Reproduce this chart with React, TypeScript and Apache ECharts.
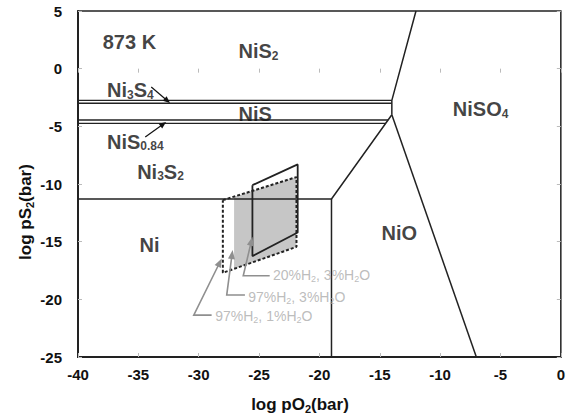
import React, { useEffect, useRef } from "react";
import * as echarts from "echarts";

const FONT = 'Arial, "Liberation Sans", Helvetica, sans-serif';

// Axis ranges / ticks
const xRange = [-40, 0];
const yRange = [-25, 5];
const tickStep = 5;

// Phase boundary lines (log pO2, log pS2)
const boundaryNi3S4Upper = [[-40, -2.75], [-14, -2.75]];
const boundaryNi3S4Lower = [[-40, -3.0], [-14, -3.0]];
const boundaryNiS084Upper = [[-40, -4.45], [-14.31, -4.45]];
const boundaryNiS084Lower = [[-40, -4.75], [-14.51, -4.75]];
const boundarySulfate = [[-12, 5], [-14, -2.75], [-14, -4.0]];
const boundaryNiO = [[-14, -4.0], [-19, -11.3], [-40, -11.3]];
const boundaryNiNiO = [[-19, -11.3], [-19, -25]];
const boundaryNiONiSO4 = [[-14, -4.0], [-7, -25]];

// Gas composition regions
const region97H2_1H2O = [[-28, -11.4], [-21.9, -9.4], [-21.9, -15.45], [-28, -17.7], [-28, -11.4]];
const region97H2_3H2O = [[-27.07, -11.1], [-21.9, -9.4], [-21.9, -15.45], [-27.07, -17.37]];
const region20H2_3H2O = [[-25.55, -10.1], [-21.8, -8.3], [-21.8, -14.2], [-25.55, -16.25], [-25.55, -10.1]];

// Phase labels: [x, y, rich text]
const phaseLabels: [number, number, string][] = [
  [-37.95, 2.3, "{b|873 K}"],
  [-26.7, 1.5, "{b|NiS}{s|2}"],
  [-37.6, -1.85, "{b|Ni}{s|3}{b|S}{s|4}"],
  [-26.7, -3.95, "{b|NiS}"],
  [-37.6, -6.35, "{b|NiS}{s|0.84}"],
  [-35.1, -8.95, "{b|Ni}{s|3}{b|S}{s|2}"],
  [-34.9, -15.3, "{b|Ni}"],
  [-14.85, -14.25, "{b|NiO}"],
  [-8.95, -3.5, "{b|NiSO}{s|4}"],
];

// Black arrows
const blackArrows = [
  [[-33.93, -1.59], [-32.38, -2.98]],
  [[-34.43, -5.93], [-32.7, -4.63]],
];

// Gray annotation arrows and texts
const grayArrows = [
  [[-24.12, -17.96], [-26.31, -17.96], [-25.55, -14.58]],
  [[-26.17, -19.63], [-27.68, -19.63], [-27.19, -15.73]],
  [[-28.93, -21.37], [-30.41, -21.37], [-28.09, -16.45]],
];
const grayTexts: [number, number, string][] = [
  [-23.85, -17.93, "{g|20%H}{gs|2}{g|, 3%H}{gs|2}{g|O}"],
  [-25.9, -19.78, "{g|97%H}{gs|2}{g|, 3%H}{gs|2}{g|O}"],
  [-28.63, -21.43, "{g|97%H}{gs|2}{g|, 1%H}{gs|2}{g|O}"],
];

const LINE = "#222";

const richStyles = {
  b: { fontSize: 20, fontWeight: "bold", fontFamily: FONT, color: "#111" },
  s: { fontSize: 12, fontWeight: "bold", fontFamily: FONT, color: "#111", padding: [9, 0, 0, 0] },
  g: { fontSize: 14, fontFamily: FONT, color: "#ababab" },
  gs: { fontSize: 9, fontFamily: FONT, color: "#ababab", padding: [8, 0, 0, 0] },
};

function lineSeries(data: number[][], extra: any = {}) {
  return {
    type: "line",
    data,
    symbol: "none",
    silent: true,
    lineStyle: { color: LINE, width: 1.5, ...(extra.lineStyle || {}) },
    z: extra.z ?? 3,
  };
}

function arrowSeries(paths: number[][][], color: string, width: number, headLen: number, headHalf: number) {
  return {
    type: "custom",
    silent: true,
    z: 5,
    data: paths.map((p) => p[p.length - 1]),
    renderItem: (params: any, api: any) => {
      const path = paths[params.dataIndex];
      const pts = path.map((pt) => api.coord(pt));
      const tip = pts[pts.length - 1];
      const prev = pts[pts.length - 2];
      const dx = tip[0] - prev[0];
      const dy = tip[1] - prev[1];
      const len = Math.sqrt(dx * dx + dy * dy) || 1;
      const ux = dx / len;
      const uy = dy / len;
      const bx = tip[0] - ux * headLen;
      const by = tip[1] - uy * headLen;
      const linePts = pts.slice(0, -1).concat([[tip[0] - ux * headLen * 0.6, tip[1] - uy * headLen * 0.6]]);
      return {
        type: "group",
        children: [
          {
            type: "polyline",
            shape: { points: linePts },
            style: { stroke: color, lineWidth: width, fill: "none" },
          },
          {
            type: "polygon",
            shape: {
              points: [
                tip,
                [bx - uy * headHalf, by + ux * headHalf],
                [bx + uy * headHalf, by - ux * headHalf],
              ],
            },
            style: { fill: color },
          },
        ],
      };
    },
  };
}

export default function App() {
  const ref = useRef<HTMLDivElement>(null);
  useEffect(() => {
    if (!ref.current) return;
    const chart = echarts.init(ref.current, undefined, { renderer: "svg" });
    const axisCommon = {
      type: "value",
      interval: tickStep,
      splitLine: { show: false },
      axisTick: { show: true, inside: true, length: 4, lineStyle: { color: "#bbb", width: 1 } },
    };
    const option: any = {
      animation: false,
      backgroundColor: "#fff",
      grid: { left: 78, right: 2, top: 11, bottom: 59, show: true, borderColor: LINE, borderWidth: 1.5 },
      xAxis: [
        {
          ...axisCommon,
          min: xRange[0],
          max: xRange[1],
          position: "bottom",
          axisLine: { show: true, onZero: false, lineStyle: { color: LINE, width: 2 } },
          axisLabel: { fontSize: 15, fontWeight: "bold", fontFamily: FONT, color: "#111", margin: 10 },
        },
        {
          ...axisCommon,
          min: xRange[0],
          max: xRange[1],
          position: "top",
          axisLine: { show: false },
          axisLabel: { show: false },
        },
      ],
      yAxis: [
        {
          ...axisCommon,
          min: yRange[0],
          max: yRange[1],
          position: "left",
          axisLine: { show: true, onZero: false, lineStyle: { color: LINE, width: 2 } },
          axisLabel: { fontSize: 15, fontWeight: "bold", fontFamily: FONT, color: "#111", margin: 16 },
        },
        {
          ...axisCommon,
          min: yRange[0],
          max: yRange[1],
          position: "right",
          axisLine: { show: false },
          axisLabel: { show: false },
        },
      ],
      graphic: [
        {
          type: "text",
          x: 300,
          y: 404,
          style: {
            text: "{a|log pO}{s|2}{a|(bar)}",
            align: "center",
            verticalAlign: "middle",
            rich: {
              a: { fontSize: 17, fontWeight: "bold", fontFamily: FONT, fill: "#111" },
              s: { fontSize: 11, fontWeight: "bold", fontFamily: FONT, fill: "#111", padding: [9, 0, 0, 0] },
            },
          },
        },
        {
          type: "text",
          x: 25,
          y: 212,
          rotation: Math.PI / 2,
          style: {
            text: "{a|log pS}{s|2}{a|(bar)}",
            align: "center",
            verticalAlign: "middle",
            rich: {
              a: { fontSize: 17, fontWeight: "bold", fontFamily: FONT, fill: "#111" },
              s: { fontSize: 11, fontWeight: "bold", fontFamily: FONT, fill: "#111", padding: [9, 0, 0, 0] },
            },
          },
        },
      ],
      series: [
        {
          type: "custom",
          silent: true,
          z: 1,
          data: [region97H2_3H2O[0]],
          renderItem: (_p: any, api: any) => ({
            type: "polygon",
            shape: { points: region97H2_3H2O.map((pt) => api.coord(pt)) },
            style: { fill: "#c6c6c6" },
          }),
        },
        lineSeries(region97H2_1H2O, { lineStyle: { type: [3, 2], width: 2 }, z: 2 }),
        lineSeries(region20H2_3H2O, { lineStyle: { width: 1.8 }, z: 2 }),
        lineSeries(boundaryNi3S4Upper, { lineStyle: { width: 1.3 } }),
        lineSeries(boundaryNi3S4Lower, { lineStyle: { width: 1.3 } }),
        lineSeries(boundaryNiS084Upper, { lineStyle: { width: 1.3 } }),
        lineSeries(boundaryNiS084Lower, { lineStyle: { width: 1.3 } }),
        lineSeries(boundarySulfate),
        lineSeries(boundaryNiO),
        lineSeries(boundaryNiNiO),
        lineSeries(boundaryNiONiSO4),
        arrowSeries(blackArrows, "#111", 1.2, 7, 3),
        arrowSeries(grayArrows, "#8f8f8f", 1.6, 9, 3.5),
        {
          type: "scatter",
          silent: true,
          symbolSize: 0,
          z: 6,
          data: phaseLabels.map(([x, y, t]) => ({ value: [x, y], label: { formatter: t } })),
          label: { show: true, position: "right", distance: 0, rich: richStyles },
        },
        {
          type: "scatter",
          silent: true,
          symbolSize: 0,
          z: 6,
          data: grayTexts.map(([x, y, t]) => ({ value: [x, y], label: { formatter: t } })),
          label: { show: true, position: "right", distance: 0, rich: richStyles },
        },
      ],
    };
    chart.setOption(option);
    return () => chart.dispose();
  }, []);
  return (
    <div
      ref={ref}
      style={{ position: "fixed", left: 0, top: 0, width: 568, height: 416, background: "#fff" }}
    />
  );
}
